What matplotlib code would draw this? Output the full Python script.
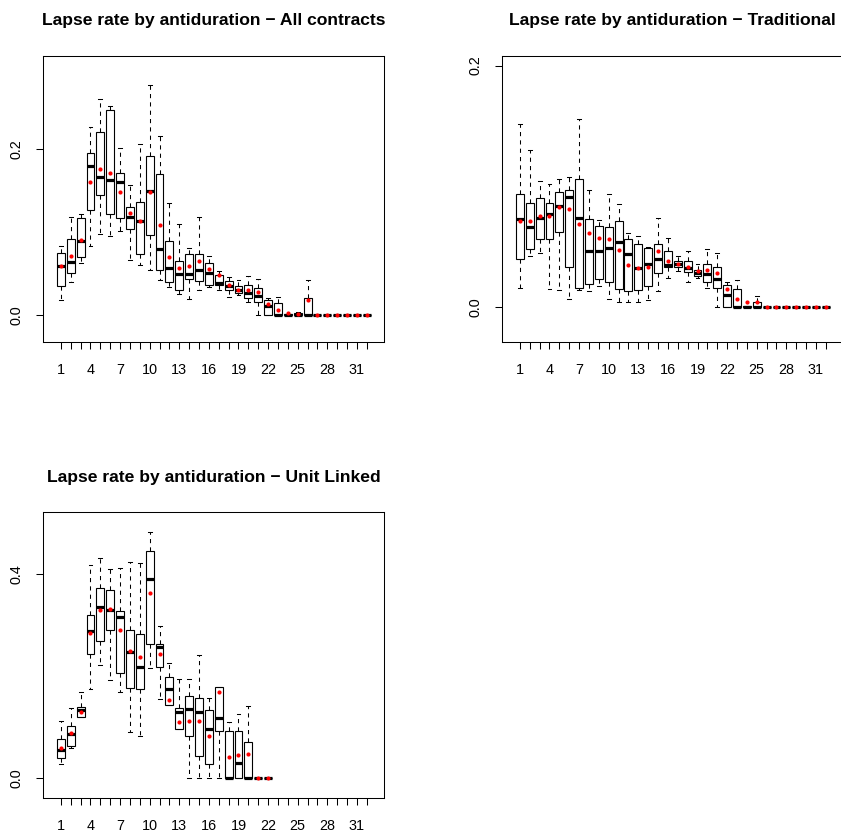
import matplotlib
matplotlib.use("Agg")
import matplotlib.pyplot as plt

plt.rcParams["font.family"] = ["Liberation Sans", "DejaVu Sans"]

# Box statistics (lower whisker, Q1, median, Q3, upper whisker, mean)
all_lo = [0.018, 0.040, 0.063, 0.083, 0.098, 0.096, 0.101, 0.067, 0.061, 0.054, 0.043, 0.034, 0.026, 0.020, 0.031, 0.034,
          0.031, 0.022, 0.024, 0.016, 0.000, 0.000, 0.000, 0.000, 0.000, 0.000, 0, 0, 0, 0, 0, 0]
all_q1 = [0.035, 0.051, 0.070, 0.127, 0.145, 0.122, 0.117, 0.104, 0.074, 0.097, 0.055, 0.040, 0.031, 0.044, 0.041, 0.037,
          0.037, 0.030, 0.027, 0.021, 0.016, 0.000, 0.000, 0.000, 0.000, 0.000, 0, 0, 0, 0, 0, 0]
all_med = [0.059, 0.064, 0.090, 0.180, 0.167, 0.163, 0.161, 0.119, 0.114, 0.150, 0.080, 0.057, 0.050, 0.050, 0.055, 0.051,
           0.039, 0.035, 0.030, 0.027, 0.023, 0.011, 0.000, 0.000, 0.000, 0.000, 0, 0, 0, 0, 0, 0]
all_q3 = [0.075, 0.092, 0.117, 0.195, 0.221, 0.247, 0.171, 0.131, 0.136, 0.192, 0.170, 0.090, 0.066, 0.074, 0.074, 0.063,
          0.049, 0.041, 0.035, 0.037, 0.033, 0.018, 0.015, 0.001, 0.003, 0.021, 0, 0, 0, 0, 0, 0]
all_hi = [0.083, 0.118, 0.122, 0.227, 0.261, 0.252, 0.202, 0.157, 0.206, 0.277, 0.216, 0.135, 0.110, 0.081, 0.119, 0.071,
          0.053, 0.046, 0.043, 0.047, 0.044, 0.021, 0.022, 0.001, 0.004, 0.043, 0, 0, 0, 0, 0, 0]
all_mean = [0.060, 0.072, 0.091, 0.161, 0.176, 0.171, 0.149, 0.123, 0.114, 0.148, 0.109, 0.070, 0.057, 0.060, 0.066, 0.056,
            0.049, 0.036, 0.031, 0.031, 0.028, 0.014, 0.007, 0.003, 0.002, 0.018, 0, 0, 0, 0, 0, 0]

trad_lo = [0.016, 0.042, 0.045, 0.015, 0.014, 0.007, 0.014, 0.013, 0.017, 0.007, 0.004, 0.004, 0.004, 0.006, 0.013, 0.024,
           0.030, 0.021, 0.024, 0.016, 0.000, 0.000, 0.000, 0.000, 0.000, 0, 0, 0, 0, 0, 0, 0]
trad_q1 = [0.040, 0.048, 0.056, 0.056, 0.062, 0.033, 0.016, 0.019, 0.023, 0.021, 0.015, 0.013, 0.014, 0.017, 0.028, 0.033,
           0.033, 0.029, 0.026, 0.021, 0.016, 0.000, 0.000, 0.000, 0.000, 0, 0, 0, 0, 0, 0, 0]
trad_med = [0.073, 0.066, 0.074, 0.077, 0.084, 0.091, 0.074, 0.046, 0.046, 0.049, 0.054, 0.044, 0.032, 0.036, 0.040, 0.035,
            0.036, 0.032, 0.028, 0.027, 0.023, 0.010, 0.000, 0.000, 0.000, 0, 0, 0, 0, 0, 0, 0]
trad_q3 = [0.094, 0.086, 0.090, 0.086, 0.095, 0.097, 0.106, 0.073, 0.067, 0.066, 0.071, 0.056, 0.052, 0.049, 0.052, 0.046,
           0.038, 0.038, 0.031, 0.036, 0.033, 0.018, 0.015, 0.001, 0.004, 0, 0, 0, 0, 0, 0, 0]
trad_hi = [0.152, 0.130, 0.104, 0.102, 0.106, 0.108, 0.156, 0.097, 0.072, 0.094, 0.085, 0.061, 0.059, 0.050, 0.074, 0.057,
           0.042, 0.046, 0.036, 0.048, 0.045, 0.021, 0.022, 0.001, 0.009, 0, 0, 0, 0, 0, 0, 0]
trad_mean = [0.071, 0.071, 0.075, 0.075, 0.083, 0.081, 0.069, 0.061, 0.057, 0.056, 0.047, 0.035, 0.032, 0.033, 0.046, 0.038,
             0.036, 0.033, 0.030, 0.031, 0.028, 0.015, 0.007, 0.004, 0.004, 0, 0, 0, 0, 0, 0, 0]

ul_lo = [0.026, 0.059, 0.120, 0.175, 0.221, 0.192, 0.168, 0.090, 0.082, 0.215, 0.155, 0.142, 0.095, 0.000, 0.000, 0.000,
         0.000, 0.000, 0.000, 0.000, 0, 0]
ul_q1 = [0.039, 0.063, 0.120, 0.242, 0.268, 0.290, 0.206, 0.177, 0.174, 0.262, 0.217, 0.142, 0.095, 0.082, 0.043, 0.027,
         0.092, 0.000, 0.000, 0.000, 0, 0]
ul_med = [0.054, 0.086, 0.133, 0.288, 0.335, 0.329, 0.315, 0.247, 0.218, 0.390, 0.257, 0.175, 0.128, 0.134, 0.128, 0.095,
          0.118, 0.000, 0.028, 0.000, 0, 0]
ul_q3 = [0.075, 0.102, 0.139, 0.320, 0.373, 0.369, 0.328, 0.289, 0.282, 0.445, 0.263, 0.198, 0.137, 0.160, 0.156, 0.132,
         0.179, 0.092, 0.092, 0.071, 0, 0]
ul_hi = [0.112, 0.137, 0.168, 0.417, 0.431, 0.409, 0.411, 0.424, 0.421, 0.483, 0.297, 0.226, 0.194, 0.194, 0.241, 0.157,
         0.179, 0.110, 0.126, 0.141, 0, 0]
ul_mean = [0.058, 0.088, 0.128, 0.285, 0.329, 0.331, 0.290, 0.249, 0.237, 0.363, 0.242, 0.152, 0.109, 0.112, 0.112, 0.082,
           0.168, 0.040, 0.045, 0.047, 0, 0]

n_durations = 32
durations = list(range(1, n_durations + 1))
tick_labels = [str(d) if (d - 1) % 3 == 0 else "" for d in durations]

panels = [
    ("Lapse rate by antiduration \u2212 All contracts", [all_lo, all_q1, all_med, all_q3, all_hi, all_mean],
     [0.0, 0.2], (-0.0325, 0.3124), [0.0515, 0.5920, 0.4055, 0.3413]),
    ("Lapse rate by antiduration \u2212 Traditional", [trad_lo, trad_q1, trad_med, trad_q3, trad_hi, trad_mean],
     [0.0, 0.2], (-0.0293, 0.208), [0.5973, 0.5920, 0.4055, 0.3413]),
    ("Lapse rate by antiduration \u2212 Unit Linked", [ul_lo, ul_q1, ul_med, ul_q3, ul_hi, ul_mean],
     [0.0, 0.4], (-0.0408, 0.521), [0.0515, 0.0483, 0.4055, 0.3411]),
]

fig = plt.figure(figsize=(8.41, 8.39), dpi=100)

for title, (lo, q1, med, q3, hi, mean), yticks, ylim, rect in panels:
    ax = fig.add_axes(rect)
    stats = []
    for i in range(len(med)):
        stats.append(dict(whislo=lo[i], q1=q1[i], med=med[i], q3=q3[i], whishi=hi[i], fliers=[]))
    pos = durations[:len(med)]
    ax.bxp(stats, positions=pos, widths=0.8, capwidths=0.4, patch_artist=True,
           boxprops=dict(facecolor="white", edgecolor="black", linewidth=0.8),
           medianprops=dict(color="black", linewidth=2.3, solid_capstyle="butt"),
           whiskerprops=dict(color="black", linewidth=0.75, linestyle=(0, (4, 4))),
           capprops=dict(color="black", linewidth=0.75))
    ax.plot(pos, mean, "o", color="red", markersize=3, markeredgewidth=0, zorder=5)

    ax.set_xlim(-0.78, n_durations + 1.78)
    ax.set_ylim(*ylim)
    ax.set_xticks(durations)
    ax.set_xticklabels(tick_labels)
    ax.set_yticks(yticks)
    ax.set_yticklabels(["%.1f" % v for v in yticks], rotation=90, va="center")
    ax.tick_params(axis="both", length=5, width=0.75, labelsize=10.4, color="black")
    ax.tick_params(axis="x", pad=10)
    ax.tick_params(axis="y", pad=9)
    for s in ax.spines.values():
        s.set_linewidth(0.75)
    ax.set_title(title, fontsize=12.6, fontweight="bold", pad=22)

fig.savefig("out.png", dpi=100)
